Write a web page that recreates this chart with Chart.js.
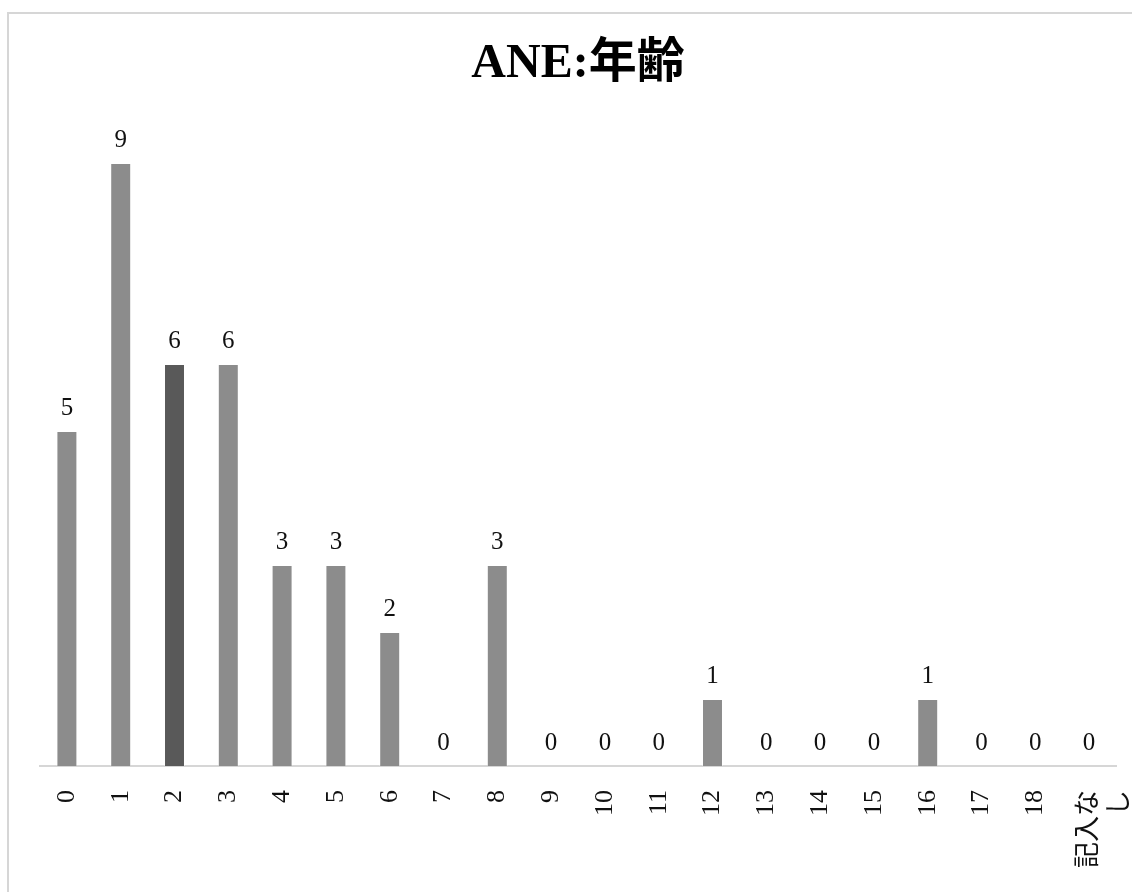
<!DOCTYPE html>
<html>
<head>
<meta charset="utf-8">
<script src="https://cdn.jsdelivr.net/npm/chart.js@4.4.1/dist/chart.umd.min.js"></script>
<style>
  html, body { margin: 0; padding: 0; background: #fff; overflow: hidden; }
  #wrap { position: relative; width: 1132px; height: 892px; }
  #frame { position: absolute; left: 7px; top: 12px; width: 2000px; height: 2000px;
           border: 2px solid #d6d6d6; pointer-events: none; }
</style>
</head>
<body>
<div id="wrap">
  <canvas id="myChart" width="1132" height="892"></canvas>
  <div id="frame"></div>
</div>
<script>
// data
var ages = ['0','1','2','3','4','5','6','7','8','9','10','11','12','13','14','15','16','17','18',['記入な','し']]
var counts = [5,9,6,6,3,3,2,0,3,0,0,0,1,0,0,0,1,0,0,0]
var barColors = ['#8c8c8c','#8c8c8c','#595959','#8c8c8c','#8c8c8c','#8c8c8c','#8c8c8c','#8c8c8c','#8c8c8c','#8c8c8c',
                 '#8c8c8c','#8c8c8c','#8c8c8c','#8c8c8c','#8c8c8c','#8c8c8c','#8c8c8c','#8c8c8c','#8c8c8c','#8c8c8c']

var serif = '"Liberation Serif", "DejaVu Serif", "Noto Sans CJK JP", serif'

// value labels above the bars
var valueLabels = {
    id: 'valueLabels',
    afterDatasetsDraw: function(chart) {
        var ctx = chart.ctx
        var meta = chart.getDatasetMeta(0)
        ctx.save()
        ctx.font = '25px ' + serif
        ctx.fillStyle = '#111'
        ctx.textAlign = 'center'
        ctx.textBaseline = 'alphabetic'
        meta.data.forEach(function(bar, i) {
            ctx.fillText(String(counts[i]), bar.x, bar.y - 16)
        })
        ctx.restore()
    }
}

var chart = new Chart(document.getElementById('myChart').getContext('2d'), {
    type: 'bar',
    data: {
        labels: ages,
        datasets: [{
            label: 'ANE:年齢',
            data: counts,
            backgroundColor: barColors,
            borderColor: 'rgba(255,255,255,0.35)',
            borderWidth: 1,
            barPercentage: 0.39,
            categoryPercentage: 1.0
        }]
    },
    plugins: [valueLabels],
    options: {
        responsive: false,
        animation: false,
        layout: { padding: { left: 40, right: 16, top: 0, bottom: 0 } },
        plugins: {
            legend: { display: false },
            tooltip: { enabled: false },
            title: {
                display: true,
                text: 'ANE:年齢',
                color: '#000',
                font: { family: serif, size: 48, weight: 'bold', lineHeight: 1.2 },
                padding: { top: 36, bottom: 2.4 }
            }
        },
        scales: {
            x: {
                grid: { display: false },
                border: { display: true, color: '#d6d6d6', width: 2 },
                ticks: {
                    color: '#111',
                    font: { family: serif, size: 26 },
                    minRotation: 90,
                    maxRotation: 90,
                    padding: 16,
                    autoSkip: false
                },
                afterFit: function(scale) {
                    scale.height = 126
                    scale.paddingLeft = 0
                    scale.paddingRight = 0
                }
            },
            y: {
                display: false,
                min: 0,
                max: 10
            }
        }
    }
})
</script>
</body>
</html>
